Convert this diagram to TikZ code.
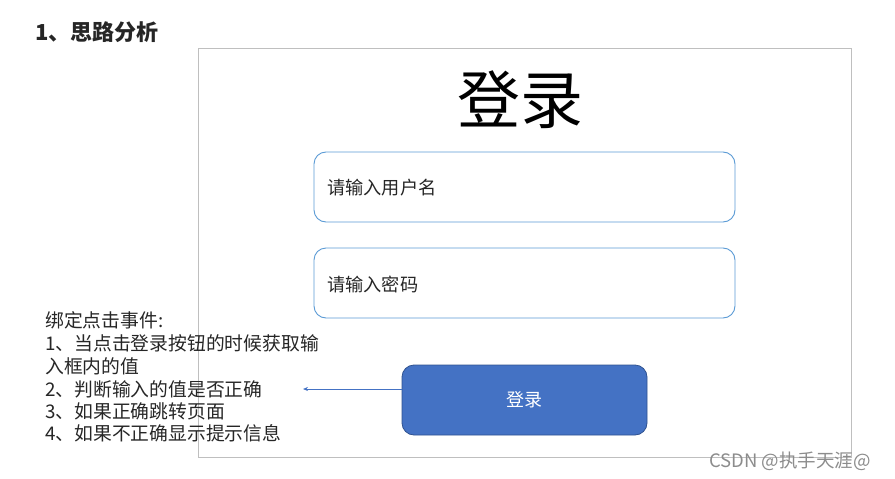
\documentclass[tikz,border=0pt]{standalone}
\usepackage{fontspec}
\setmainfont{Noto Sans CJK SC}
\usetikzlibrary{arrows.meta}
\definecolor{framegray}{HTML}{BFBFBF}
\definecolor{boxblue}{HTML}{5B9BD5}
\definecolor{btnfill}{HTML}{4472C4}
\definecolor{btnline}{HTML}{2F528F}
\definecolor{txt}{HTML}{262626}
\begin{document}
\begin{tikzpicture}[x=1pt,y=-1pt,
  inputbox/.style={draw=boxblue,line width=0.9pt,rounded corners=12pt,fill=white},
  plain/.style={inner sep=0pt,anchor=west,text=txt,font=\fontsize{18.2}{22}\selectfont},
  note/.style={inner sep=0pt,anchor=west,text=txt,font=\fontsize{18.8}{22}\selectfont}]
\useasboundingbox (0,0) rectangle (895,479);
% title
\node[inner sep=0pt,anchor=west,font=\fontsize{22}{26}\selectfont\bfseries,text=black!85] (title) at (35,32) {1、思路分析};
% frame
\draw[framegray,line width=0.8pt] (198,48) rectangle (851,457);
% big title
\node[inner sep=0pt,font=\fontsize{63}{70}\selectfont] (big) at (520,100) {登录};
% input boxes
\draw[inputbox] (314,152) rectangle (735,222);
\node[plain] (user) at (327,188) {请输入用户名};
\draw[inputbox] (314,248) rectangle (735,318);
\node[plain] (pwd) at (327,284) {请输入密码};
% button
\node[draw=btnline,fill=btnfill,line width=0.8pt,rounded corners=12pt,minimum width=245pt,minimum height=70pt,inner sep=0pt,text=white,font=\fontsize{18}{22}\selectfont] (btn) at (524.5,400) {登录};
\coordinate (arrend) at (303,389);
\draw[btnfill,line width=0.7pt,-{Stealth[length=5pt,width=4pt]}] (btn.west |- arrend) -- (arrend);
% notes
\node[note] (n0) at (45,320) {绑定点击事件:};
\node[note] (n1) at (45,343) {1、当点击登录按钮的时候获取输};
\node[note] (n2) at (45,366) {入框内的值};
\node[note] (n3) at (45,389) {2、判断输入的值是否正确};
\node[note] (n4) at (45,411) {3、如果正确跳转页面};
\node[note] (n5) at (45,433) {4、如果不正确显示提示信息};
% watermark
\node[inner sep=0pt,anchor=west,text=black!45,font=\fontsize{18.5}{20}\selectfont] (wm) at (709,461) {CSDN @执手天涯@};
\end{tikzpicture}
\end{document}
